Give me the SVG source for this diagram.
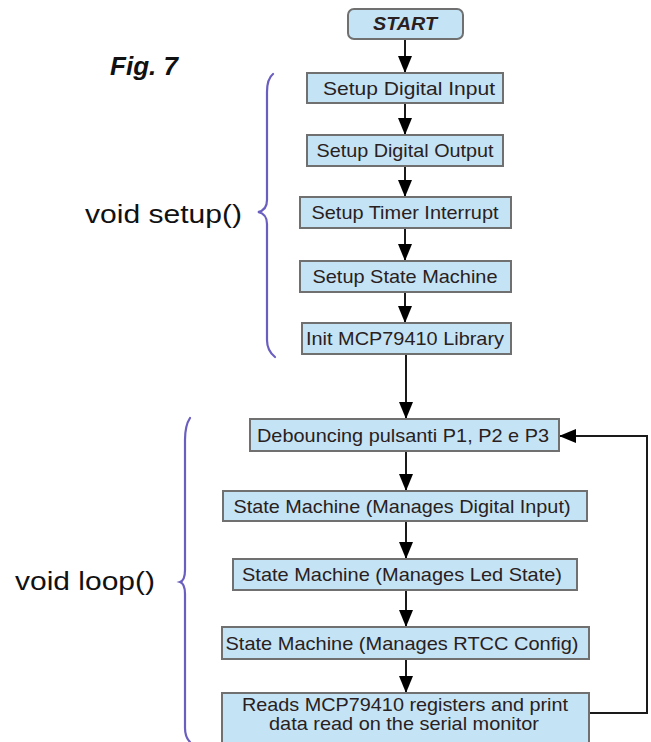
<svg xmlns="http://www.w3.org/2000/svg" width="651" height="742" viewBox="0 0 651 742">
<style>
.box{fill:#c4e4f5;stroke:#707070;stroke-width:2}
.t{font-family:"Liberation Sans",Arial,sans-serif;font-size:19px;fill:#2a2020;text-anchor:middle}
.lbl{font-family:"Liberation Sans",Arial,sans-serif;font-size:26px;fill:#111}
.conn{fill:none;stroke:#1a1a1a;stroke-width:2}
.brace{fill:none;stroke:#6a5fc0;stroke-width:2.2;stroke-linecap:round}
</style>
<defs>
<marker id="ah" markerUnits="userSpaceOnUse" markerWidth="17" markerHeight="14" viewBox="0 0 17 14" refX="17" refY="7" orient="auto">
<path d="M0,0 L17,7 L0,14 z" fill="#000"/>
</marker>
</defs>
<rect width="651" height="742" fill="#fff"/>
<text x="110" y="75" class="lbl" font-weight="bold" font-style="italic" textLength="68" lengthAdjust="spacingAndGlyphs">Fig. 7</text>
<g id="label-setup">
<text x="85" y="223" class="lbl" textLength="157" lengthAdjust="spacingAndGlyphs">void setup()</text>
<path class="brace" d="M273,74 C268,78 267,84 267,92 L267,200 C267,208 263,211 258,212 C263,213 267,216 267,224 L267,340 C267,348 270,353 275,357"/>
</g>
<g id="label-loop">
<text x="15" y="590" class="lbl" textLength="140" lengthAdjust="spacingAndGlyphs">void loop()</text>
<path class="brace" d="M190,418 C186,424 185,430 185,440 L185,570 C185,578 183,581 180,582 C183,583 185,586 185,594 L185,728 C185,735 187,739 190,742"/>
</g>
<g id="connectors">
<line class="conn" x1="405" y1="39" x2="405" y2="73" marker-end="url(#ah)"/>
<line class="conn" x1="405" y1="103" x2="405" y2="135" marker-end="url(#ah)"/>
<line class="conn" x1="405" y1="166" x2="405" y2="197" marker-end="url(#ah)"/>
<line class="conn" x1="405" y1="228" x2="405" y2="261" marker-end="url(#ah)"/>
<line class="conn" x1="405" y1="292" x2="405" y2="323" marker-end="url(#ah)"/>
<line class="conn" x1="406" y1="354" x2="406" y2="419" marker-end="url(#ah)"/>
<line class="conn" x1="406" y1="451" x2="406" y2="491" marker-end="url(#ah)"/>
<line class="conn" x1="406" y1="521" x2="406" y2="559" marker-end="url(#ah)"/>
<line class="conn" x1="406" y1="590" x2="406" y2="627" marker-end="url(#ah)"/>
<line class="conn" x1="406" y1="659" x2="406" y2="693" marker-end="url(#ah)"/>
<polyline class="conn" points="589,713 647,713 647,436 559,436" marker-end="url(#ah)"/>
</g>
<g id="start">
<rect class="box" x="348" y="9" width="115" height="30" rx="6"/>
<text x="405" y="30" class="t" font-weight="bold" font-style="italic" textLength="64" lengthAdjust="spacingAndGlyphs">START</text>
</g>
<g id="setup-digital-input">
<rect class="box" x="307" y="73" width="196" height="30"/>
<text x="409" y="95" class="t" textLength="172" lengthAdjust="spacingAndGlyphs">Setup Digital Input</text>
</g>
<g id="setup-digital-output">
<rect class="box" x="307" y="135" width="196" height="31"/>
<text x="405" y="157" class="t" textLength="177" lengthAdjust="spacingAndGlyphs">Setup Digital Output</text>
</g>
<g id="setup-timer-interrupt">
<rect class="box" x="300" y="197" width="211" height="31"/>
<text x="405" y="219" class="t" textLength="187" lengthAdjust="spacingAndGlyphs">Setup Timer Interrupt</text>
</g>
<g id="setup-state-machine">
<rect class="box" x="300" y="261" width="211" height="31"/>
<text x="405" y="283" class="t" textLength="185" lengthAdjust="spacingAndGlyphs">Setup State Machine</text>
</g>
<g id="init-library">
<rect class="box" x="302" y="323" width="209" height="31"/>
<text x="405" y="345" class="t" textLength="198" lengthAdjust="spacingAndGlyphs">Init MCP79410 Library</text>
</g>
<g id="debouncing">
<rect class="box" x="250" y="419" width="309" height="32"/>
<text x="403" y="442" class="t" textLength="292" lengthAdjust="spacingAndGlyphs">Debouncing pulsanti P1, P2 e P3</text>
</g>
<g id="sm-digital-input">
<rect class="box" x="223" y="491" width="364" height="30"/>
<text x="402" y="513" class="t" textLength="337" lengthAdjust="spacingAndGlyphs">State Machine (Manages Digital Input)</text>
</g>
<g id="sm-led-state">
<rect class="box" x="233" y="559" width="344" height="31"/>
<text x="402" y="581" class="t" textLength="320" lengthAdjust="spacingAndGlyphs">State Machine (Manages Led State)</text>
</g>
<g id="sm-rtcc-config">
<rect class="box" x="222" y="627" width="367" height="32"/>
<text x="402" y="650" class="t" textLength="353" lengthAdjust="spacingAndGlyphs">State Machine (Manages RTCC Config)</text>
</g>
<g id="reads-registers">
<rect class="box" x="222" y="693" width="367" height="55"/>
<text x="405" y="711" class="t" textLength="326" lengthAdjust="spacingAndGlyphs">Reads MCP79410 registers and print</text>
<text x="404" y="730" class="t" textLength="270" lengthAdjust="spacingAndGlyphs">data read on the serial monitor</text>
</g>
</svg>
